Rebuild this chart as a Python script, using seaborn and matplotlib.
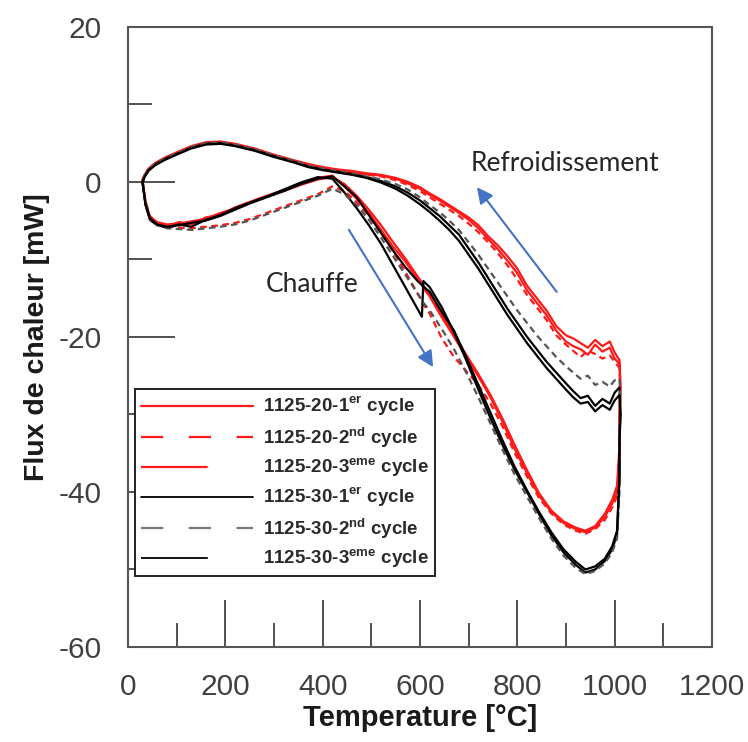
import pandas as pd
import matplotlib.pyplot as plt
import seaborn as sns
from matplotlib.lines import Line2D

# grilles de temperature communes (chauffe puis refroidissement)
T_CHAUFFE = [30, 36, 45, 60, 80, 105, 130, 160, 190, 220,
             250, 285, 320, 355, 390, 420, 445, 470, 495, 520,
             545, 570, 595, 604, 607, 620, 645, 670, 695, 720,
             745, 770, 795, 820, 845, 870, 895, 920, 940, 960,
             980, 995, 1005, 1010]
T_REFROID = [1010, 1012, 1010, 1000, 990, 975, 960, 945, 930, 915,
             900, 880, 860, 840, 820, 800, 780, 760, 740, 720,
             700, 680, 660, 640, 620, 600, 575, 550, 520, 490,
             460, 430, 400, 370, 340, 300, 260, 220, 190, 160,
             130, 100, 75, 55, 42, 34, 30]

# flux de chaleur [mW]
q_20_1_chauffe = [0.2, -2.8, -4.6, -5.4, -5.7, -5.2, -5.5, -4.6, -4.2, -3.3,
                  -2.6, -1.8, -1.1, -0.2, 0.5, 0.8, -0.6, -2.2, -4.0, -6.2,
                  -8.4, -10.3, -12.6, -13.3, -13.7, -14.8, -17.5, -20.0, -22.6, -25.1,
                  -27.8, -31.0, -34.5, -37.6, -40.5, -42.6, -44.0, -44.8, -45.2, -44.6,
                  -43.2, -41.5, -40.0, -36.0]
q_20_1_refroid = [-30.0, -27.0, -23.5, -22.8, -21.4, -21.9, -21.0, -22.3, -21.6, -21.2,
                  -20.6, -19.2, -17.2, -15.6, -14.0, -11.8, -10.2, -8.7, -7.4, -6.0,
                  -4.9, -4.0, -3.2, -2.4, -1.7, -0.9, -0.2, 0.4, 0.8, 1.0,
                  1.3, 1.5, 1.8, 2.2, 2.7, 3.4, 4.2, 4.8, 5.1, 5.0,
                  4.5, 3.7, 3.0, 2.3, 1.6, 0.8, 0.2]

q_20_2_chauffe = [0.0, -2.5, -4.4, -5.3, -5.8, -5.9, -6.0, -5.8, -5.6, -5.3,
                  -4.8, -4.0, -3.2, -2.4, -1.6, -0.6, -1.2, -2.6, -4.4, -6.6,
                  -9.0, -11.6, -14.4, -15.4, -15.8, -17.0, -20.2, -22.6, -24.4, -26.2,
                  -28.6, -31.6, -35.0, -38.0, -40.8, -42.8, -44.2, -45.0, -45.4, -44.8,
                  -43.6, -42.0, -40.6, -35.0]
q_20_2_refroid = [-31.0, -28.0, -24.0, -23.2, -22.4, -22.8, -22.2, -21.8, -22.6, -21.8,
                  -21.0, -19.8, -17.8, -16.2, -14.6, -12.6, -10.8, -9.2, -7.8, -6.5,
                  -5.4, -4.4, -3.6, -2.8, -2.0, -1.2, -0.4, 0.2, 0.7, 0.9,
                  1.2, 1.4, 1.7, 2.1, 2.6, 3.3, 4.1, 4.7, 5.0, 4.9,
                  4.4, 3.6, 2.9, 2.2, 1.5, 0.7, 0.0]

q_20_3_chauffe = [0.1, -2.6, -4.5, -5.2, -5.5, -5.4, -5.1, -4.8, -4.0, -3.5,
                  -2.7, -1.9, -1.2, -0.4, 0.3, 0.6, -0.3, -1.8, -3.6, -5.6,
                  -7.8, -9.9, -12.2, -13.0, -13.4, -14.5, -17.2, -19.7, -22.3, -24.8,
                  -27.5, -30.6, -34.0, -37.2, -40.2, -42.4, -43.8, -44.6, -45.0, -44.4,
                  -42.8, -41.0, -39.2, -34.0]
q_20_3_refroid = [-29.0, -26.0, -23.0, -22.0, -20.6, -21.2, -20.4, -21.4, -20.8, -20.2,
                  -19.8, -18.6, -16.6, -15.0, -13.4, -11.2, -9.6, -8.2, -7.0, -5.6,
                  -4.6, -3.8, -3.0, -2.2, -1.5, -0.7, 0.0, 0.5, 0.9, 1.1,
                  1.4, 1.6, 1.9, 2.3, 2.8, 3.5, 4.3, 4.9, 5.2, 5.1,
                  4.6, 3.8, 3.1, 2.4, 1.7, 0.9, 0.3]

q_30_1_chauffe = [-0.2, -3.0, -4.9, -5.6, -5.9, -5.5, -5.8, -4.9, -4.3, -3.4,
                  -2.7, -1.9, -1.0, -0.1, 0.6, 0.4, -1.4, -3.4, -5.6, -8.0,
                  -10.8, -13.6, -16.4, -17.4, -12.8, -13.6, -16.2, -19.4, -23.0, -26.8,
                  -30.5, -34.0, -37.2, -40.0, -42.9, -45.6, -47.8, -49.4, -50.4, -50.0,
                  -48.9, -47.4, -45.5, -38.0]
q_30_1_refroid = [-34.0, -30.0, -26.5, -27.2, -28.6, -28.0, -28.9, -27.6, -27.9, -27.0,
                  -26.0, -24.6, -23.2, -21.6, -20.0, -18.2, -16.4, -14.4, -12.4, -10.4,
                  -8.6, -6.8, -5.6, -4.4, -3.4, -2.4, -1.4, -0.6, 0.1, 0.6,
                  1.0, 1.3, 1.6, 2.0, 2.6, 3.3, 4.1, 4.7, 5.0, 4.9,
                  4.4, 3.6, 2.9, 2.2, 1.5, 0.7, 0.0]

q_30_2_chauffe = [0.0, -2.8, -4.8, -5.6, -6.0, -6.1, -6.2, -6.0, -5.8, -5.5,
                  -5.0, -4.2, -3.4, -2.6, -1.8, -0.9, -1.6, -3.0, -4.9, -7.2,
                  -9.6, -12.0, -14.4, -15.2, -15.6, -16.6, -19.0, -21.6, -24.6, -27.8,
                  -31.2, -34.6, -37.8, -40.6, -43.4, -46.0, -48.2, -49.8, -50.6, -50.2,
                  -49.2, -47.8, -46.0, -40.0]
q_30_2_refroid = [-32.0, -28.0, -25.4, -25.6, -26.4, -25.8, -26.2, -25.0, -25.4, -24.6,
                  -23.8, -22.6, -21.2, -19.8, -18.2, -16.6, -14.8, -13.0, -11.2, -9.4,
                  -7.8, -6.2, -5.0, -3.9, -3.0, -2.0, -1.0, -0.3, 0.3, 0.7,
                  1.1, 1.4, 1.7, 2.1, 2.7, 3.4, 4.2, 4.8, 5.1, 5.0,
                  4.5, 3.7, 3.0, 2.3, 1.6, 0.8, 0.1]

q_30_3_chauffe = [-0.1, -2.9, -4.7, -5.5, -5.8, -5.6, -5.3, -5.0, -4.4, -3.6,
                  -2.8, -2.0, -1.2, -0.3, 0.4, 0.7, -0.6, -2.0, -4.3, -6.6,
                  -8.9, -11.0, -12.8, -13.3, -13.5, -14.2, -16.8, -19.2, -22.6, -26.2,
                  -29.8, -33.4, -36.8, -39.8, -42.6, -45.2, -47.4, -49.0, -50.0, -49.6,
                  -48.6, -47.0, -45.0, -38.0]
q_30_3_refroid = [-33.0, -30.0, -27.5, -28.2, -29.4, -28.8, -29.6, -28.4, -28.6, -27.8,
                  -26.8, -25.4, -24.0, -22.4, -20.8, -19.0, -17.2, -15.2, -13.2, -11.2,
                  -9.4, -7.6, -6.2, -5.0, -3.9, -2.9, -1.8, -0.9, -0.1, 0.5,
                  0.9, 1.2, 1.5, 1.9, 2.5, 3.2, 4.0, 4.6, 4.9, 4.8,
                  4.3, 3.5, 2.8, 2.1, 1.4, 0.6, -0.1]

labels = [r"1125-20-1$^{\mathbf{er}}$ cycle",
          r"1125-20-2$^{\mathbf{nd}}$ cycle",
          r"1125-20-3$^{\mathbf{eme}}$ cycle",
          r"1125-30-1$^{\mathbf{er}}$ cycle",
          r"1125-30-2$^{\mathbf{nd}}$ cycle",
          r"1125-30-3$^{\mathbf{eme}}$ cycle"]
chauffes = [q_20_1_chauffe, q_20_2_chauffe, q_20_3_chauffe,
            q_30_1_chauffe, q_30_2_chauffe, q_30_3_chauffe]
refroids = [q_20_1_refroid, q_20_2_refroid, q_20_3_refroid,
            q_30_1_refroid, q_30_2_refroid, q_30_3_refroid]

# tableau long : une boucle chauffe + refroidissement par cycle
frames = []
for lab, qc, qr in zip(labels, chauffes, refroids):
    frames.append(pd.DataFrame({"serie": lab,
                                "temperature": T_CHAUFFE + T_REFROID,
                                "flux": qc + qr}))
donnees = pd.concat(frames, ignore_index=True)

sns.set_theme(style="white")
plt.rcParams["font.family"] = ["Liberation Sans", "DejaVu Sans"]
plt.rcParams["mathtext.fontset"] = "custom"
plt.rcParams["mathtext.rm"] = "Liberation Sans"
plt.rcParams["mathtext.bf"] = "Liberation Sans:bold"
plt.rcParams["axes.unicode_minus"] = False

rouge = "#ff1a1a"
couleurs = [rouge, rouge, rouge, "black", "#555555", "black"]
styles = ["-", (0, (3, 2)), "-", "-", (0, (3, 2)), "-"]

fig = plt.figure(figsize=(7.48, 7.42), dpi=100)
ax = fig.add_axes([0.1711, 0.128, 0.7807, 0.836])

for lab, c, ls in zip(labels, couleurs, styles):
    sns.lineplot(data=donnees[donnees["serie"] == lab], x="temperature", y="flux",
                 sort=False, estimator=None, color=c, linestyle=ls,
                 linewidth=1.6, ax=ax, legend=False)

ax.set_xlim(0, 1200)
ax.set_ylim(-60, 20)
ax.set_xticks(range(0, 1201, 200))
ax.set_xticks(range(100, 1200, 200), minor=True)
ax.set_yticks(range(-60, 21, 20))
ax.set_yticks(range(-50, 20, 20), minor=True)
ax.tick_params(which="both", direction="in", top=False, right=False,
               bottom=True, left=True, color="#222222", width=1.1)
ax.tick_params(which="major", length=34, labelsize=21.5, labelcolor="#404040", pad=19)
ax.tick_params(which="minor", length=17)
for s in ax.spines.values():
    s.set_color("#555555")
    s.set_linewidth(1.5)

ax.set_xlabel("Temperature [°C]", fontsize=21, fontweight="bold", color="#1a1a1a", labelpad=2)
ax.set_ylabel("Flux de chaleur [mW]", fontsize=20.5, fontweight="bold", color="#1a1a1a", labelpad=6)

# annotations chauffe / refroidissement
bleu = "#4472C4"
ax.annotate("", xy=(627, -23.9), xytext=(454, -6.2),
            arrowprops=dict(arrowstyle="-|>", color=bleu, lw=1.5, mutation_scale=24,
                            shrinkA=0, shrinkB=0))
ax.annotate("", xy=(717, -0.7), xytext=(881, -14.2),
            arrowprops=dict(arrowstyle="-|>", color=bleu, lw=1.5, mutation_scale=24,
                            shrinkA=0, shrinkB=0))
ax.text(898, 2.4, "Refroidissement", fontsize=19, family="Lato", ha="center", va="center")
ax.text(378, -13.3, "Chauffe", fontsize=19, family="Lato", ha="center", va="center")

# legende avec des poignees dessinees a part (longueurs differentes comme l'original)
proxies = [Line2D([], [], color=rouge, lw=1.6),
           Line2D([], [], color=rouge, lw=1.6, linestyle=(0, (10, 11.5))),
           Line2D([], [], color=rouge, lw=1.6, linestyle=(0, (30, 200))),
           Line2D([], [], color="black", lw=1.3),
           Line2D([], [], color="#777777", lw=1.6, linestyle=(0, (10, 11.5))),
           Line2D([], [], color="black", lw=1.3, linestyle=(0, (37, 300)))]
leg = ax.legend(proxies, labels, loc="lower left", bbox_to_anchor=(0.012, 0.1145),
                borderaxespad=0, frameon=True, fancybox=False, framealpha=1,
                handlelength=6.0, handletextpad=0.55, borderpad=0.3, labelspacing=0.36,
                prop={"weight": "bold", "size": 13.5})
leg.set_zorder(10)
leg.get_frame().set_edgecolor("#222222")
leg.get_frame().set_linewidth(1.4)
for t in leg.get_texts():
    t.set_color("#2a2a2a")

fig.savefig("out.png", dpi=100)
